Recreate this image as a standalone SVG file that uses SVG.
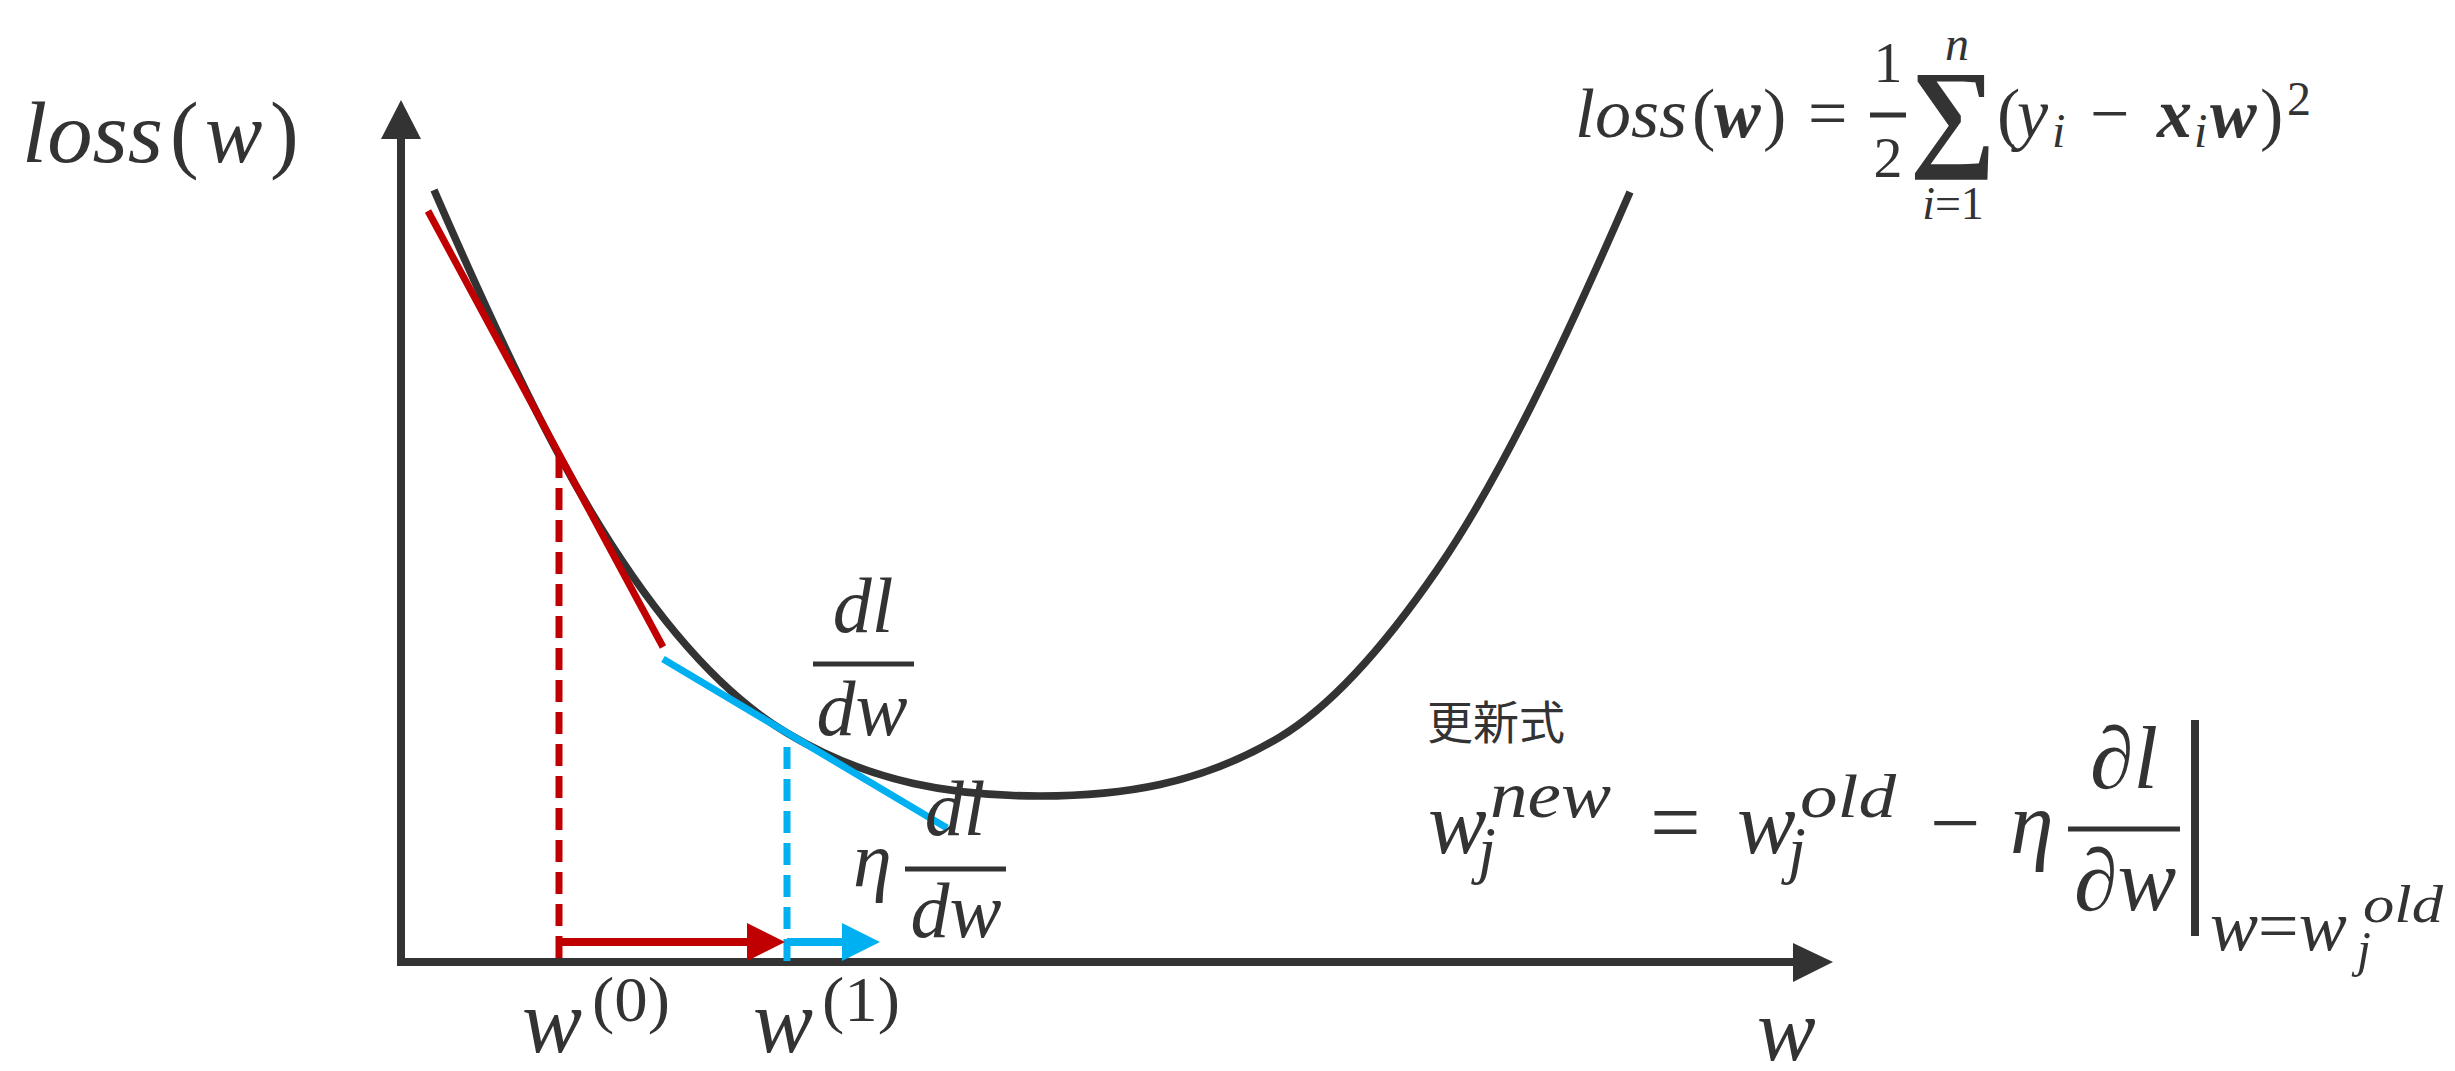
<svg xmlns="http://www.w3.org/2000/svg" width="2455" height="1071" viewBox="0 0 2455 1071">
<style>
.m{font-family:'Liberation Serif','DejaVu Serif',serif;font-style:italic;fill:#333333}
.u{font-family:'Liberation Serif','DejaVu Serif',serif;font-style:normal;fill:#333333}
.b{font-family:'Liberation Serif','DejaVu Serif',serif;font-style:italic;font-weight:bold;fill:#333333}
.jp{font-family:'Noto Sans CJK JP','Noto Sans',sans-serif;fill:#333333}
.bar{stroke:#333333;stroke-width:5}
.ax{stroke:#333333;stroke-width:8;fill:none}
.red{stroke:#C00000;stroke-width:7;fill:none}
.blue{stroke:#00B0F0;stroke-width:7;fill:none}
</style>
<rect width="2455" height="1071" fill="#ffffff"/>

<g id="axes">
<line class="ax" x1="401" y1="966" x2="401" y2="135"/>
<polygon points="381,139 401,100 421,139" fill="#333333"/>
<line class="ax" x1="397" y1="962" x2="1797" y2="962"/>
<polygon points="1793,943 1833,962 1793,982" fill="#333333"/>
</g>

<g id="loss-curve">
<path d="M434,190 C475.7,285.9 517.3,377.6 559,455 C635,596 711,687.4 787,733 C871.3,783.6 955.7,796 1040,796 C1120,796 1200,785 1280,737 C1332.3,705.6 1384.7,645.9 1437,570 C1501.3,476.7 1565.7,340 1630,192" fill="none" stroke="#333333" stroke-width="7.5"/>
</g>

<g id="connectors">
<line class="red" x1="428" y1="211" x2="663" y2="647"/>
<line class="blue" x1="663" y1="659" x2="947" y2="828"/>
<line class="red" x1="559" y1="456" x2="559" y2="962" stroke-dasharray="22 10"/>
<line class="blue" x1="787" y1="747" x2="787" y2="962" stroke-dasharray="22 10"/>
<line stroke="#C00000" stroke-width="8" x1="559" y1="942" x2="750" y2="942"/>
<polygon points="747,923 785,942 747,961" fill="#C00000"/>
<line stroke="#00B0F0" stroke-width="8" x1="787" y1="942" x2="845" y2="942"/>
<polygon points="842,923 880,942 842,961" fill="#00B0F0"/>
</g>

<g id="label-loss-axis">
<text class="m" x="22" y="162" font-size="86" textLength="141" lengthAdjust="spacingAndGlyphs">loss</text>
<text class="u" x="170" y="162" font-size="86">(</text>
<text class="m" x="205" y="162" font-size="86">w</text>
<text class="u" x="270" y="162" font-size="86">)</text>
</g>

<g id="label-w-axis">
<text class="m" x="1757" y="1060" font-size="88">w</text>
</g>

<g id="label-w0">
<text class="m" x="522" y="1052" font-size="90">w</text>
<text class="u" x="592" y="1021" font-size="64" textLength="78" lengthAdjust="spacingAndGlyphs">(0)</text>
</g>
<g id="label-w1">
<text class="m" x="753" y="1052" font-size="90">w</text>
<text class="u" x="822" y="1021" font-size="64" textLength="78" lengthAdjust="spacingAndGlyphs">(1)</text>
</g>

<g id="label-dldw">
<text class="m" x="863" y="632" font-size="78" text-anchor="middle">dl</text>
<line class="bar" x1="813" y1="664" x2="914" y2="664"/>
<text class="m" x="862" y="735" font-size="78" text-anchor="middle">dw</text>
</g>

<g id="label-eta-dldw">
<text class="m" x="853" y="886" font-size="78">η</text>
<text class="m" x="955" y="835" font-size="78" text-anchor="middle">dl</text>
<line class="bar" x1="905" y1="869" x2="1006" y2="869"/>
<text class="m" x="956" y="937" font-size="78" text-anchor="middle">dw</text>
</g>

<g id="loss-formula">
<text class="m" x="1575" y="137" font-size="70" textLength="112" lengthAdjust="spacingAndGlyphs">loss</text>
<text class="u" x="1692" y="137" font-size="70">(</text>
<text class="b" x="1714" y="137" font-size="70">w</text>
<text class="u" x="1763" y="137" font-size="70">)</text>
<text class="u" x="1808" y="137" font-size="70">=</text>
<text class="u" x="1888" y="82" font-size="58" text-anchor="middle">1</text>
<line class="bar" x1="1870" y1="115" x2="1906" y2="115" stroke-width="4"/>
<text class="u" x="1888" y="177" font-size="58" text-anchor="middle">2</text>
<text class="u" x="1953" y="154" font-size="121" font-weight="bold" text-anchor="middle">∑</text>
<text class="m" x="1957" y="60" font-size="48" text-anchor="middle">n</text>
<text class="m" x="1953" y="219" font-size="46" text-anchor="middle">i<tspan class="u">=1</tspan></text>
<text class="u" x="1997" y="137" font-size="70">(</text>
<text class="m" x="2017" y="137" font-size="70">y</text>
<text class="m" x="2052" y="147" font-size="48">i</text>
<text class="u" x="2090" y="137" font-size="70">−</text>
<text class="b" x="2157" y="137" font-size="70">x</text>
<text class="m" x="2194" y="147" font-size="48">i</text>
<text class="b" x="2210" y="137" font-size="70">w</text>
<text class="u" x="2260" y="137" font-size="70">)</text>
<text class="u" x="2287" y="115" font-size="48">2</text>
</g>

<g id="update-title">
<text class="jp" x="1427" y="739" font-size="46">更新式</text>
</g>

<g id="update-formula">
<text class="m" x="1428" y="853" font-size="88">w</text>
<text class="m" x="1478" y="871" font-size="64">j</text>
<text class="m" x="1490" y="817" font-size="66" textLength="121" lengthAdjust="spacingAndGlyphs">new</text>
<text class="u" x="1650" y="853" font-size="90">=</text>
<text class="m" x="1737" y="853" font-size="88">w</text>
<text class="m" x="1788" y="871" font-size="64">j</text>
<text class="m" x="1800" y="817" font-size="62" textLength="96" lengthAdjust="spacingAndGlyphs">old</text>
<text class="u" x="1930" y="853" font-size="90">−</text>
<text class="m" x="2010" y="853" font-size="88">η</text>
<text class="m" x="2124" y="788" font-size="88" text-anchor="middle">∂l</text>
<line class="bar" x1="2068" y1="829" x2="2180" y2="829"/>
<text class="m" x="2125" y="910" font-size="88" text-anchor="middle">∂w</text>
<line stroke="#333333" stroke-width="8" x1="2195" y1="720" x2="2195" y2="936"/>
<text class="m" x="2210" y="950" font-size="72">w<tspan class="u">=</tspan>w</text>
<text class="m" x="2357" y="966" font-size="50">j</text>
<text class="m" x="2363" y="922" font-size="52" textLength="80" lengthAdjust="spacingAndGlyphs">old</text>
</g>
</svg>
